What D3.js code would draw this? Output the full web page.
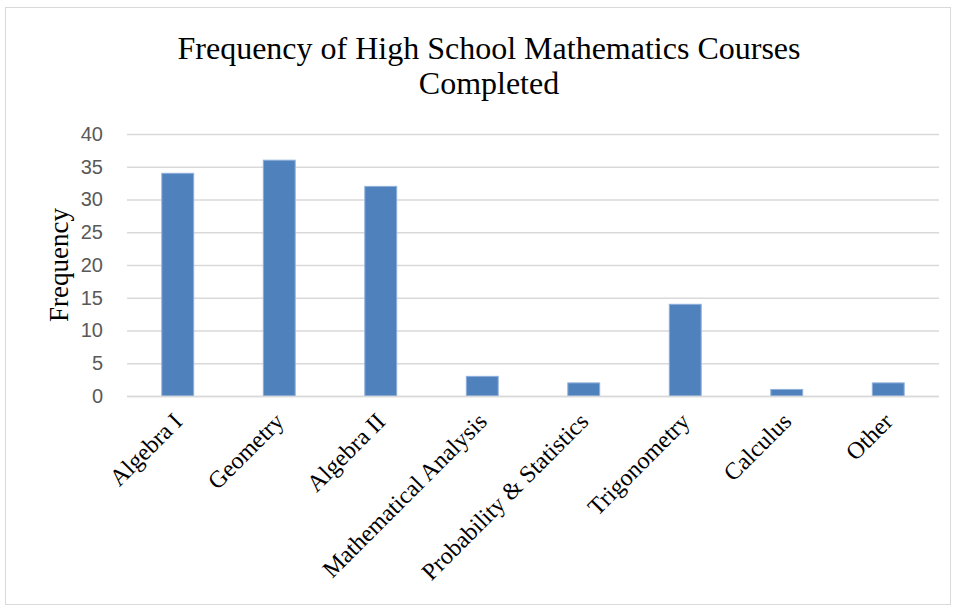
<!DOCTYPE html>
<html>
<head>
<meta charset="utf-8">
<script src="https://cdn.jsdelivr.net/npm/d3@7/dist/d3.min.js"></script>
<style>
  html, body { margin: 0; padding: 0; background: #fff; }
  svg { display: block; }
</style>
</head>
<body>
<svg id="chart" width="956" height="607"></svg>
<script>
// Course categories and how many respondents completed each
const courses = ["Algebra I", "Geometry", "Algebra II", "Mathematical Analysis",
                 "Probability & Statistics", "Trigonometry", "Calculus", "Other"];
const frequencies = [34, 36, 32, 3, 2, 14, 1, 2];
const yTicks = [0, 5, 10, 15, 20, 25, 30, 35, 40];
const titleLines = ["Frequency of High School Mathematics Courses", "Completed"];
const yAxisTitle = "Frequency";

const svg = d3.select("#chart");
const W = 956, H = 607;
const plot = { left: 127, right: 939, top: 134, bottom: 396 };

// chart frame
svg.append("rect")
  .attr("x", 5.5).attr("y", 7.5)
  .attr("width", W - 11).attr("height", H - 10)
  .attr("fill", "#fff").attr("stroke", "#d9d9d9").attr("stroke-width", 1);

const x = d3.scaleBand()
  .domain(courses)
  .range([plot.left, plot.right])
  .paddingInner(0.686).paddingOuter(0.343);

const y = d3.scaleLinear()
  .domain([0, 40])
  .range([plot.bottom, plot.top]);

// horizontal gridlines + value labels
const yAxis = d3.axisLeft(y)
  .tickValues(yTicks)
  .tickSize(-(plot.right - plot.left))
  .tickPadding(24);

const gy = svg.append("g")
  .attr("transform", `translate(${plot.left},0)`)
  .call(yAxis);
gy.select(".domain").remove();
gy.selectAll(".tick line")
  .attr("stroke", "#d9d9d9").attr("stroke-width", 1.5);
gy.selectAll(".tick text")
  .attr("fill", "#595959")
  .style("font-family", "'Liberation Sans', Arial, sans-serif")
  .style("font-size", "20px");

// bars
svg.append("g").selectAll("rect")
  .data(courses.map((c, i) => ({ c, v: frequencies[i] })))
  .join("rect")
  .attr("x", d => x(d.c))
  .attr("y", d => y(d.v))
  .attr("width", x.bandwidth())
  .attr("height", d => y(0) - y(d.v))
  .attr("fill", "#4f81bd")
  .attr("stroke", "#8eaedb")
  .attr("stroke-width", 1);

// category axis line
svg.append("line")
  .attr("x1", plot.left).attr("x2", plot.right)
  .attr("y1", y(0) + 0.5).attr("y2", y(0) + 0.5)
  .attr("stroke", "#d9d9d9").attr("stroke-width", 1.5);

// rotated category labels
const gx = svg.append("g")
  .attr("transform", `translate(0,${plot.bottom})`)
  .call(d3.axisBottom(x).tickSize(0).tickPadding(0));
gx.select(".domain").remove();
gx.selectAll(".tick text")
  .attr("fill", "#000")
  .style("font-family", "'Liberation Serif', 'Times New Roman', serif")
  .style("font-size", "24px")
  .attr("text-anchor", "end")
  .attr("dy", 0)
  .attr("transform", "translate(6,27) rotate(-45)");

// title
svg.append("text")
  .attr("x", 489).attr("y", 59)
  .attr("text-anchor", "middle")
  .style("font-family", "'Liberation Serif', 'Times New Roman', serif")
  .style("font-size", "32px")
  .attr("fill", "#000")
  .selectAll("tspan")
  .data(titleLines)
  .join("tspan")
  .attr("x", 489)
  .attr("dy", (d, i) => i === 0 ? 0 : 35)
  .text(d => d);

// y axis title
svg.append("text")
  .attr("transform", `translate(68,${(plot.top + plot.bottom) / 2}) rotate(-90)`)
  .attr("text-anchor", "middle")
  .style("font-family", "'Liberation Serif', 'Times New Roman', serif")
  .style("font-size", "27px")
  .attr("fill", "#000")
  .text(yAxisTitle);
</script>
</body>
</html>
